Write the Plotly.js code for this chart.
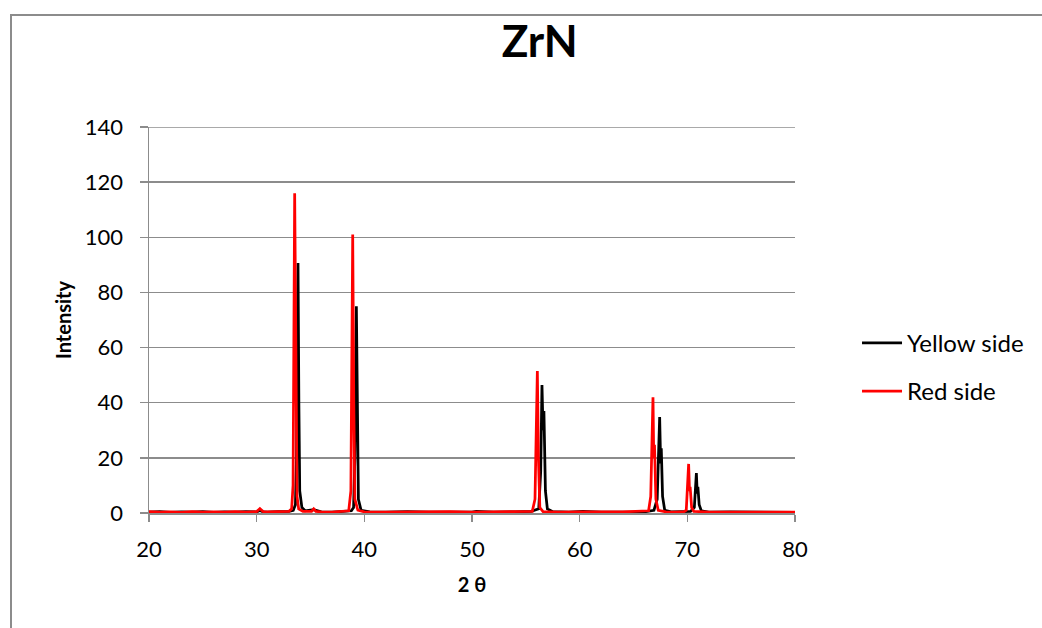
<!DOCTYPE html>
<html>
<head>
<meta charset="utf-8">
<script src="https://cdn.plot.ly/plotly-3.0.1.min.js"></script>
<style>
  html, body { margin: 0; padding: 0; background: #fff; overflow: hidden; }
  #frame { position: absolute; left: 10px; top: 14px; width: 1100px; height: 700px; border: 2px solid #8c8c8c; box-sizing: border-box; }
  #chart { position: absolute; left: 0; top: 0; width: 1042px; height: 628px; }
</style>
</head>
<body>
<div id="frame"></div>
<div id="chart"></div>
<script>
// 2θ positions and intensities
const yellowX = [20, 21, 22, 23, 24, 25, 26, 27, 28, 29, 30, 30.3, 30.6, 31, 32, 33, 33.4, 33.6, 33.7, 33.84, 33.92, 34.0, 34.2, 34.5, 35.3, 36, 37, 38, 38.8, 39.0, 39.12, 39.26, 39.36, 39.45, 39.7, 40.5, 42, 44, 46, 48, 50, 50.4, 52, 54, 55.5, 56.2, 56.38, 56.5, 56.6, 56.68, 56.82, 57.0, 57.5, 59, 60.3, 62, 64, 66, 66.9, 67.2, 67.43, 67.52, 67.58, 67.7, 67.9, 68.5, 70.3, 70.65, 70.84, 70.92, 70.98, 71.1, 71.3, 72, 74, 76, 78, 80];
const yellowY = [0.3, 0.5, 0.2, 0.4, 0.3, 0.5, 0.2, 0.4, 0.3, 0.5, 0.4, 0.9, 0.4, 0.3, 0.5, 0.6, 1.0, 3, 20, 90.7, 40, 8, 2, 0.8, 1.2, 0.4, 0.3, 0.5, 0.8, 2, 20, 75, 30, 5, 1, 0.4, 0.3, 0.5, 0.3, 0.4, 0.3, 0.6, 0.3, 0.4, 0.6, 1.5, 15, 46.4, 30, 37, 8, 1.5, 0.5, 0.3, 0.6, 0.3, 0.4, 0.4, 1, 5, 34.8, 18, 23.5, 6, 1, 0.4, 0.6, 2, 14.5, 7, 9.5, 3, 0.8, 0.3, 0.4, 0.3, 0.3, 0.2];

const redX = [20, 21, 22, 23, 24, 25, 26, 27, 28, 29, 30, 30.3, 30.6, 31, 32, 33, 33.25, 33.38, 33.53, 33.64, 33.75, 33.9, 34.3, 35.1, 35.3, 35.5, 36, 37, 38, 38.55, 38.75, 38.92, 39.02, 39.12, 39.4, 40, 42, 44, 46, 48, 50, 52, 54, 55.6, 55.85, 56.07, 56.17, 56.3, 56.6, 58, 60, 62, 64, 66.4, 66.6, 66.81, 66.88, 66.95, 67.08, 67.3, 68, 69, 69.7, 69.9, 70.12, 70.2, 70.26, 70.4, 70.6, 72, 74, 76, 78, 80];
const redY = [0.5, 0.3, 0.4, 0.2, 0.5, 0.3, 0.4, 0.3, 0.5, 0.3, 0.5, 1.6, 0.5, 0.4, 0.5, 0.6, 1.5, 10, 116, 50, 6, 1.5, 0.6, 0.6, 1.5, 0.6, 0.4, 0.3, 0.5, 0.8, 8, 101, 40, 5, 1, 0.4, 0.3, 0.4, 0.3, 0.5, 0.3, 0.4, 0.3, 0.6, 5, 51.5, 20, 2, 0.5, 0.3, 0.4, 0.3, 0.4, 0.8, 6, 42, 20, 24.7, 5, 1, 0.4, 0.3, 0.5, 1, 17.8, 8, 9.5, 2, 0.6, 0.3, 0.4, 0.3, 0.3, 0.3];

const xTicks = [20, 30, 40, 50, 60, 70, 80];
const yTicks = [0, 20, 40, 60, 80, 100, 120, 140];
const yMax = 140;

const FONT = 'Lato, "Open Sans", sans-serif';
const GRID = '#8c8c8c';

const traces = [
  { x: yellowX, y: yellowY, type: 'scatter', mode: 'lines', name: 'Yellow side',
    line: { color: '#000000', width: 2.75 }, legend: 'legend' },
  { x: redX, y: redY, type: 'scatter', mode: 'lines', name: 'Red side',
    line: { color: '#ff0000', width: 2.75 }, legend: 'legend2' }
];

const legendCommon = { font: { family: FONT, size: 24, color: '#000' }, bgcolor: 'rgba(0,0,0,0)',
  xanchor: 'left', yanchor: 'middle', itemwidth: 40 };

const layout = {
  width: 1042, height: 628,
  margin: { l: 149, r: 247, t: 127, b: 115 },
  paper_bgcolor: 'rgba(0,0,0,0)', plot_bgcolor: 'rgba(0,0,0,0)',
  font: { family: FONT, color: '#000' },
  title: { text: '<b>ZrN</b>', font: { family: FONT, size: 44, color: '#000' },
    xref: 'container', x: 0.518, xanchor: 'center', yref: 'container', y: 0.933, yanchor: 'middle' },
  xaxis: {
    range: [20, 80], tickvals: xTicks, ticktext: xTicks.map(String),
    showgrid: false, zeroline: false, showline: true, linecolor: GRID, linewidth: 1.5,
    ticks: 'outside', ticklen: 7, tickcolor: GRID, tickwidth: 1.5, ticklabelstandoff: 9,
    tickfont: { family: FONT, size: 22, color: '#000' },
    title: { text: '<b>2 θ</b>', font: { family: FONT, size: 20, color: '#000' }, standoff: 17 }
  },
  yaxis: {
    range: [0, yMax], tickvals: yTicks, ticktext: yTicks.map(String),
    showgrid: true, gridcolor: GRID, gridwidth: 1.5, zeroline: false,
    showline: true, linecolor: GRID, linewidth: 1.5,
    ticks: 'outside', ticklen: 8, tickcolor: GRID, tickwidth: 1.5, ticklabelstandoff: 12,
    tickfont: { family: FONT, size: 22, color: '#000' },
    title: { text: '<b>Intensity</b>', font: { family: FONT, size: 20, color: '#000' }, standoff: 8 }
  },
  shapes: [
    { type: 'line', xref: 'paper', yref: 'y', x0: 0, x1: 1, y0: yMax, y1: yMax,
      line: { color: GRID, width: 1.5 }, layer: 'below' }
  ],
  legend: Object.assign({ x: 1.096, y: 0.44 }, legendCommon),
  legend2: Object.assign({ x: 1.096, y: 0.315 }, legendCommon),
  showlegend: true
};

Plotly.newPlot('chart', traces, layout, { staticPlot: true, displayModeBar: false });
</script>
</body>
</html>
